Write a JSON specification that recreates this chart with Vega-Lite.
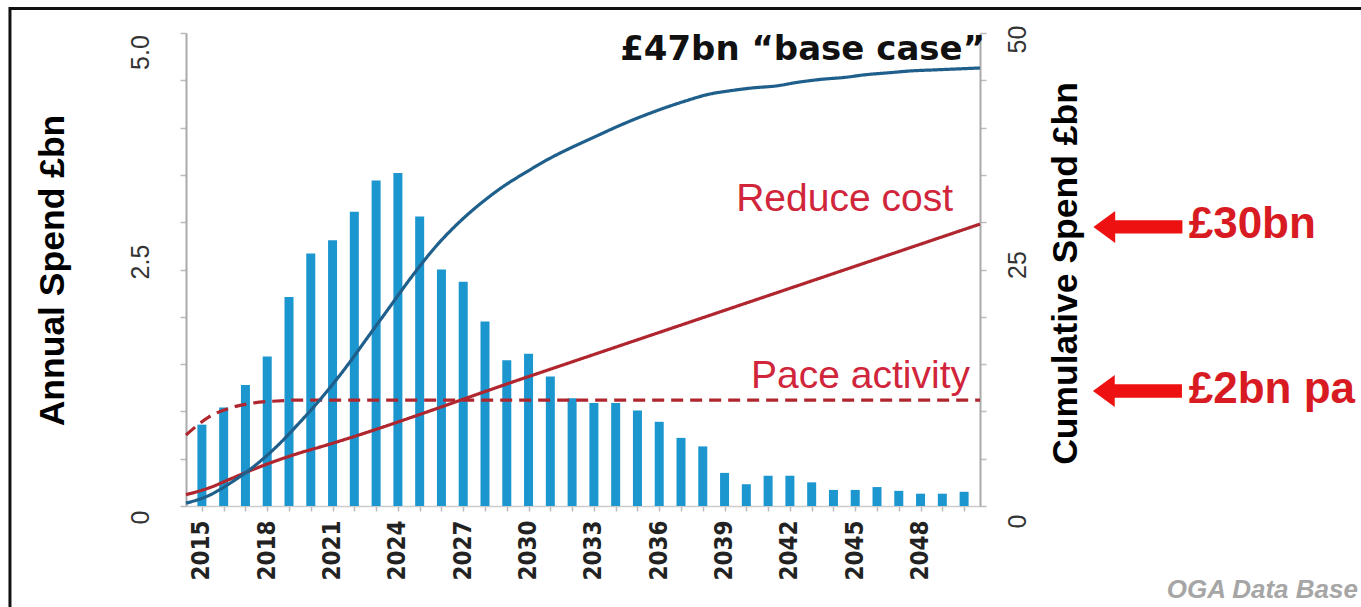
{
  "$schema": "https://vega.github.io/schema/vega-lite/v6.json",
  "width": 794,
  "height": 473,
  "autosize": {"type": "none"},
  "padding": {"left": 186, "top": 33, "right": 381, "bottom": 101},
  "background": "white",
  "config": {
    "view": {"stroke": null},
    "axis": {"grid": false, "labelFont": "Liberation Sans", "titleFont": "Liberation Sans", "labelOverlap": false, "labelFlush": false, "labelBound": false}
  },
  "datasets": {
    "annual": [
      {"year": 2015, "spend": 0.86}, {"year": 2016, "spend": 1.04}, {"year": 2017, "spend": 1.28},
      {"year": 2018, "spend": 1.58}, {"year": 2019, "spend": 2.21}, {"year": 2020, "spend": 2.67},
      {"year": 2021, "spend": 2.81}, {"year": 2022, "spend": 3.11}, {"year": 2023, "spend": 3.44},
      {"year": 2024, "spend": 3.52}, {"year": 2025, "spend": 3.06}, {"year": 2026, "spend": 2.50},
      {"year": 2027, "spend": 2.37}, {"year": 2028, "spend": 1.95}, {"year": 2029, "spend": 1.54},
      {"year": 2030, "spend": 1.61}, {"year": 2031, "spend": 1.37}, {"year": 2032, "spend": 1.14},
      {"year": 2033, "spend": 1.09}, {"year": 2034, "spend": 1.09}, {"year": 2035, "spend": 1.01},
      {"year": 2036, "spend": 0.89}, {"year": 2037, "spend": 0.72}, {"year": 2038, "spend": 0.63},
      {"year": 2039, "spend": 0.35}, {"year": 2040, "spend": 0.23}, {"year": 2041, "spend": 0.32},
      {"year": 2042, "spend": 0.32}, {"year": 2043, "spend": 0.25}, {"year": 2044, "spend": 0.17},
      {"year": 2045, "spend": 0.17}, {"year": 2046, "spend": 0.20}, {"year": 2047, "spend": 0.16},
      {"year": 2048, "spend": 0.13}, {"year": 2049, "spend": 0.13}, {"year": 2050, "spend": 0.15}
    ],
    "cumulative": [
      {"series": "Pace activity", "year": 2015, "value": 7.5},
      {"series": "Pace activity", "year": 2016, "value": 9.4},
      {"series": "Pace activity", "year": 2017, "value": 10.4},
      {"series": "Pace activity", "year": 2018, "value": 10.9},
      {"series": "Pace activity", "year": 2019, "value": 11.1},
      {"series": "Pace activity", "year": 2020, "value": 11.2},
      {"series": "Pace activity", "year": 2050, "value": 11.2},
      {"series": "Reduce cost", "year": 2015, "value": 1.2},
      {"series": "Reduce cost", "year": 2016, "value": 1.9},
      {"series": "Reduce cost", "year": 2017, "value": 2.9},
      {"series": "Reduce cost", "year": 2018, "value": 3.9},
      {"series": "Reduce cost", "year": 2019, "value": 4.8},
      {"series": "Reduce cost", "year": 2020, "value": 5.6},
      {"series": "Reduce cost", "year": 2021, "value": 6.3},
      {"series": "Reduce cost", "year": 2030, "value": 13.6},
      {"series": "Reduce cost", "year": 2040, "value": 21.7},
      {"series": "Reduce cost", "year": 2050, "value": 29.8},
      {"series": "Base case", "year": 2015, "value": 0.3},
      {"series": "Base case", "year": 2016, "value": 1.1},
      {"series": "Base case", "year": 2017, "value": 2.5},
      {"series": "Base case", "year": 2018, "value": 4.2},
      {"series": "Base case", "year": 2019, "value": 6.3},
      {"series": "Base case", "year": 2020, "value": 8.8},
      {"series": "Base case", "year": 2021, "value": 11.5},
      {"series": "Base case", "year": 2022, "value": 14.5},
      {"series": "Base case", "year": 2023, "value": 17.8},
      {"series": "Base case", "year": 2024, "value": 21.1},
      {"series": "Base case", "year": 2025, "value": 24.4},
      {"series": "Base case", "year": 2026, "value": 27.4},
      {"series": "Base case", "year": 2027, "value": 29.9},
      {"series": "Base case", "year": 2028, "value": 32.0},
      {"series": "Base case", "year": 2029, "value": 33.8},
      {"series": "Base case", "year": 2030, "value": 35.3},
      {"series": "Base case", "year": 2031, "value": 36.7},
      {"series": "Base case", "year": 2032, "value": 37.9},
      {"series": "Base case", "year": 2033, "value": 39.0},
      {"series": "Base case", "year": 2034, "value": 40.1},
      {"series": "Base case", "year": 2035, "value": 41.1},
      {"series": "Base case", "year": 2036, "value": 42.0},
      {"series": "Base case", "year": 2037, "value": 42.8},
      {"series": "Base case", "year": 2038, "value": 43.5},
      {"series": "Base case", "year": 2039, "value": 43.9},
      {"series": "Base case", "year": 2040, "value": 44.2},
      {"series": "Base case", "year": 2041, "value": 44.4},
      {"series": "Base case", "year": 2042, "value": 44.8},
      {"series": "Base case", "year": 2043, "value": 45.1},
      {"series": "Base case", "year": 2044, "value": 45.3},
      {"series": "Base case", "year": 2045, "value": 45.6},
      {"series": "Base case", "year": 2046, "value": 45.8},
      {"series": "Base case", "year": 2047, "value": 46.0},
      {"series": "Base case", "year": 2048, "value": 46.1},
      {"series": "Base case", "year": 2049, "value": 46.2},
      {"series": "Base case", "year": 2050, "value": 46.3}
    ]
  },
  "layer": [
    {
      "data": {"name": "annual"},
      "mark": {"type": "bar", "width": 9, "color": "#1B96CF"},
      "encoding": {
        "x": {
          "field": "year", "type": "quantitative",
          "scale": {"domain": [2014.5, 2050.5], "nice": false, "zero": false},
          "axis": {
            "title": null,
            "values": [2015,2016,2017,2018,2019,2020,2021,2022,2023,2024,2025,2026,2027,2028,2029,2030,2031,2032,2033,2034,2035,2036,2037,2038,2039,2040,2041,2042,2043,2044,2045,2046,2047,2048,2049,2050],
            "labelExpr": "(datum.value - 2015) % 3 == 0 ? '' + datum.value : ''",
            "labelAngle": 270, "labelAlign": "right", "labelBaseline": "middle",
            "labelFont": "Liberation Sans Narrow, DejaVu Sans Condensed, sans-serif",
            "labelFontSize": 24, "labelFontWeight": "bold", "labelColor": "#222222", "labelPadding": 9,
            "tickSize": 5, "tickColor": "#bbbbbb", "tickWidth": 1.5,
            "domainColor": "#cccccc", "domainWidth": 1.5
          }
        },
        "y": {
          "field": "spend", "type": "quantitative",
          "scale": {"domain": [0, 5], "nice": false},
          "axis": {
            "orient": "left",
            "title": "Annual Spend £bn",
            "values": [0,0.5,1,1.5,2,2.5,3,3.5,4,4.5,5],
            "labelExpr": "datum.value == 0 ? '0' : datum.value == 2.5 ? '2.5' : datum.value == 5 ? '5.0' : ''",
            "labelAngle": 270, "labelAlign": "center", "labelBaseline": "alphabetic",
            "labelFontSize": 25, "labelColor": "#333333", "labelPadding": 32,
            "labelOffset": {"condition": [{"test": "datum.value == 5", "value": 19}, {"test": "datum.value == 0", "value": 11}], "value": -8},
            "tickSize": 6, "tickColor": "#bbbbbb", "tickWidth": 1.5,
            "domainColor": "#aaaaaa", "domainWidth": 2,
            "titleFontSize": 35.5, "titleFontWeight": "bold", "titleColor": "#000000",
            "titleAngle": 270, "titleAlign": "center", "titleBaseline": "alphabetic",
            "titleX": -123, "titleY": 237
          }
        }
      }
    },
    {
      "encoding": {
        "x": {"type": "quantitative", "scale": {"domain": [2015, 2050], "nice": false, "zero": false}, "axis": null},
        "y": {
          "type": "quantitative",
          "scale": {"domain": [0, 50], "nice": false},
          "axis": {
            "orient": "right",
            "title": "Cumulative Spend £bn",
            "values": [0,5,10,15,20,25,30,35,40,45,50],
            "labelExpr": "datum.value == 0 ? '0' : datum.value == 25 ? '25' : datum.value == 50 ? '50' : ''",
            "labelAngle": 270, "labelAlign": "center", "labelBaseline": "top",
            "labelFontSize": 25, "labelColor": "#333333", "labelPadding": 19,
            "labelOffset": {"condition": [{"test": "datum.value == 50", "value": 6}, {"test": "datum.value == 0", "value": 15}], "value": -5},
            "tickSize": 6, "tickColor": "#bbbbbb", "tickWidth": 1.5,
            "domainColor": "#aaaaaa", "domainWidth": 2,
            "titleFontSize": 35.5, "titleFontWeight": "bold", "titleColor": "#000000",
            "titleAngle": 270, "titleAlign": "center", "titleBaseline": "alphabetic",
            "titleX": 96, "titleY": 240
          }
        }
      },
      "layer": [
        {
          "data": {"name": "cumulative"},
          "mark": {"type": "line", "strokeWidth": 3.2, "interpolate": "monotone"},
          "encoding": {
            "x": {"field": "year", "type": "quantitative"},
            "y": {"field": "value", "type": "quantitative"},
            "color": {"field": "series", "type": "nominal", "scale": {"domain": ["Pace activity", "Reduce cost", "Base case"], "range": ["#B0262F", "#B0262F", "#1F5F8B"]}, "legend": null},
            "strokeDash": {"field": "series", "type": "nominal", "scale": {"domain": ["Pace activity", "Reduce cost", "Base case"], "range": [[12, 7], [1, 0], [1, 0]]}, "legend": null}
          }
        },
        {
          "data": {"values": [{}]},
          "mark": {"type": "text", "text": "£47bn “base case”", "align": "right", "baseline": "alphabetic", "font": "DejaVu Sans", "fontWeight": "bold", "fontSize": 34, "color": "#111111"},
          "encoding": {"x": {"datum": 2050.22}, "y": {"datum": 47.15}}
        },
        {
          "data": {"values": [{}]},
          "mark": {"type": "text", "text": "Reduce cost", "align": "right", "baseline": "alphabetic", "font": "Liberation Sans", "fontSize": 39, "color": "#D0253A"},
          "encoding": {"x": {"datum": 2048.81}, "y": {"datum": 31.18}}
        },
        {
          "data": {"values": [{}]},
          "mark": {"type": "text", "text": "Pace activity", "align": "right", "baseline": "alphabetic", "font": "Liberation Sans", "fontSize": 39, "color": "#D0253A"},
          "encoding": {"x": {"datum": 2049.56}, "y": {"datum": 12.5}}
        },
        {
          "data": {"values": [{}]},
          "mark": {"type": "point", "shape": "M-1,0L-0.51,-0.36L-0.51,-0.15L1,-0.15L1,0.15L-0.51,0.15L-0.51,0.36Z", "size": 7921, "filled": true, "opacity": 1, "color": "#EE1111", "strokeWidth": 0},
          "encoding": {"x": {"datum": 2056.96}, "y": {"datum": 29.5}}
        },
        {
          "data": {"values": [{}]},
          "mark": {"type": "point", "shape": "M-1,0L-0.51,-0.36L-0.51,-0.15L1,-0.15L1,0.15L-0.51,0.15L-0.51,0.36Z", "size": 7921, "filled": true, "opacity": 1, "color": "#EE1111", "strokeWidth": 0},
          "encoding": {"x": {"datum": 2056.94}, "y": {"datum": 12.16}}
        },
        {
          "data": {"values": [{}]},
          "mark": {"type": "text", "text": "£30bn", "align": "left", "baseline": "alphabetic", "font": "Liberation Sans", "fontWeight": "bold", "fontSize": 44, "color": "#D81B22"},
          "encoding": {"x": {"datum": 2059.2}, "y": {"datum": 28.3}}
        },
        {
          "data": {"values": [{}]},
          "mark": {"type": "text", "text": "£2bn pa", "align": "left", "baseline": "alphabetic", "font": "Liberation Sans", "fontWeight": "bold", "fontSize": 44, "color": "#D81B22"},
          "encoding": {"x": {"datum": 2059.2}, "y": {"datum": 10.9}}
        },
        {
          "data": {"values": [{}]},
          "mark": {"type": "text", "text": "OGA Data Base", "align": "right", "baseline": "alphabetic", "font": "Liberation Sans", "fontWeight": "bold", "fontStyle": "italic", "fontSize": 26, "color": "#A6A6A6"},
          "encoding": {"x": {"datum": 2066.66}, "y": {"datum": -9.73}}
        },
        {
          "data": {"values": [{}]},
          "mark": {"type": "rule", "strokeWidth": 3, "color": "#111111"},
          "encoding": {"x": {"datum": 2007.24}, "x2": {"datum": 2066.9}, "y": {"datum": 52.6}}
        },
        {
          "data": {"values": [{}]},
          "mark": {"type": "rule", "strokeWidth": 3, "color": "#111111"},
          "encoding": {"x": {"datum": 2007.24}, "y": {"datum": 52.75}, "y2": {"datum": -10.8}}
        }
      ]
    }
  ],
  "resolve": {"scale": {"x": "independent", "y": "independent"}}
}
